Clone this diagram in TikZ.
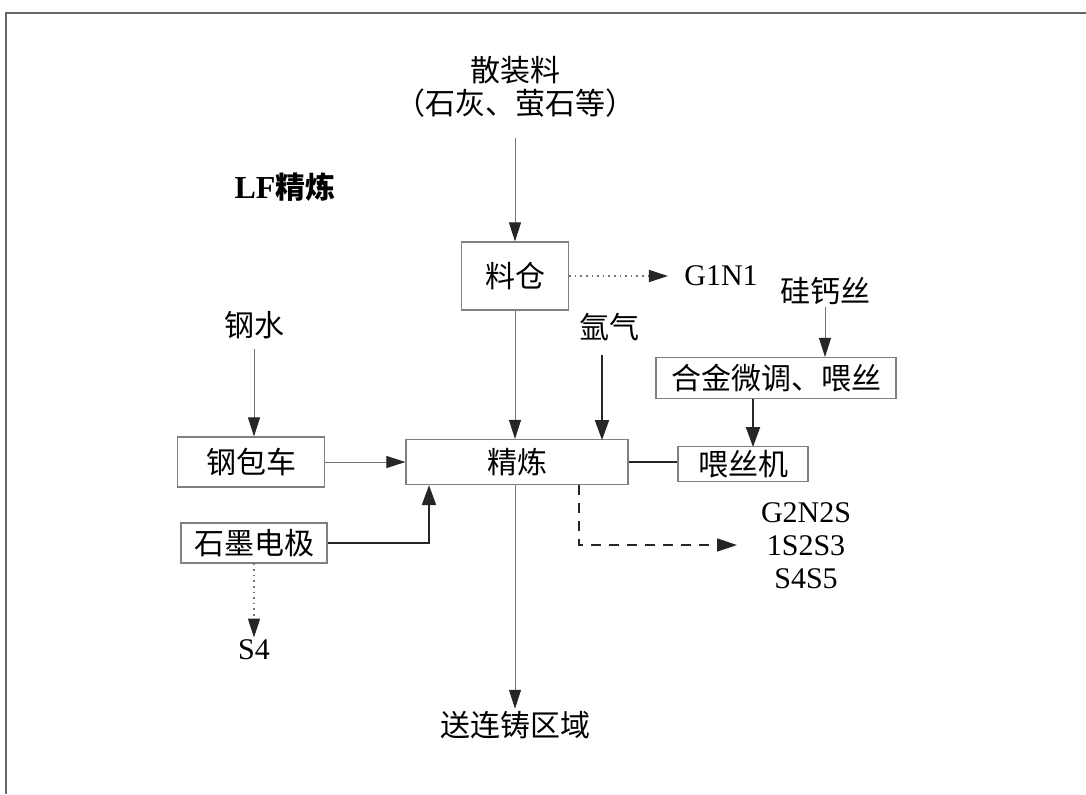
\documentclass[tikz,border=0pt]{standalone}
\usepackage{fontspec}
\setmainfont{Liberation Serif}
\newfontfamily\cjk{Noto Sans CJK SC}
\usetikzlibrary{arrows.meta,positioning}

\tikzset{
  box/.style={draw=black!50, line width=0.6pt, inner sep=0pt, font=\cjk\fontsize{15}{18}\selectfont},
  lbl/.style={inner sep=1pt, font=\cjk\fontsize{15}{18}\selectfont},
  code/.style={inner sep=1pt, font=\fontsize{15}{16.5}\selectfont, align=center},
  arr/.style={draw=black!55, line width=0.5pt, -{Triangle[length=9.5pt,width=6pt,color=black!85]}},
  thickarr/.style={draw=black!85, line width=1pt, -{Triangle[length=10pt,width=7pt]}},
  dotarr/.style={draw=black!55, line width=0.8pt, dotted, -{Triangle[length=9.5pt,width=6pt,color=black!85]}},
  dasharr/.style={draw=black!85, line width=0.8pt, dash pattern=on 5pt off 4pt, -{Triangle[length=10pt,width=6.5pt,color=black!85]}},
}

\begin{document}
\begin{tikzpicture}[x=0.5pt, y=-0.5pt]

\useasboundingbox (0,0) rectangle (1086,794);
\fill[white] (0,0) rectangle (1086,794);
\draw[black!60, line width=1pt] (1086,13) -- (6,13) -- (6,794);

\node[lbl] (bulk) at (515,70) {散装料};
\node[lbl] (bulk2) at (515,103) {（石灰、萤石等）};
\node[lbl, font=\cjk\bfseries\fontsize{15}{18}\selectfont] (title) at (285,187) {{\rmfamily\bfseries\fontsize{16}{18}\selectfont LF}精炼};

\node[box, minimum width=53.5pt, minimum height=34pt] (bin) at (515,276) {料仓};
\node[code] (g1) at (721,276) {G1N1};

\node[lbl] (steel) at (254,325) {钢水};
\node[box, minimum width=73.5pt, minimum height=25pt] (ladle) at (251,462) {钢包车};
\node[box, minimum width=111pt, minimum height=22.5pt] (refine) at (517,462) {精炼};

\node[lbl] (argon) at (609,327) {氩气};
\node[lbl] (wire) at (825,291) {硅钙丝};
\node[box, minimum width=120pt, minimum height=20.5pt] (alloy) at (776,378) {合金微调、喂丝};
\node[box, minimum width=65pt, minimum height=17.5pt] (feeder) at (743,464) {喂丝机};

\node[box, minimum width=73pt, minimum height=20pt] (graph) at (254,543) {石墨电极};
\node[code] (s4) at (254,650) {S4};
\node[lbl] (cast) at (515,725) {送连铸区域};
\node[code] (gas) at (806,546) {G2N2S\\1S2S3\\S4S5};

\coordinate (A) at (429,543);
\coordinate (B) at (579,545);
\coordinate (C) at (737,545);

\draw[arr] (bulk2.south) ++(0,18) -- (bin.north);
\draw[dotarr, shorten >=7pt] (bin.east) -- (g1.west);
\draw[arr] (bin.south) -- (bin.south |- refine.north);
\draw[arr] (steel.south) ++(0,8) -- (steel.south |- ladle.north);
\draw[arr] (ladle.east) -- (ladle.east -| refine.west);
\draw[thickarr] (argon.south -| 602,0) ++(0,12) -- (602,440);
\draw[arr] (wire.south) -- (wire.south |- alloy.north);
\draw[thickarr] (alloy.south -| 753,0) -- (753,447);
\draw[draw=black!85, line width=0.8pt] (refine.east) -- (refine.east -| feeder.west);
\draw[thickarr] (graph.east) -- (A) -- (A |- refine.south);
\draw[dotarr] (graph.south) -- (s4.north);
\draw[arr] (refine.south -| 515,0) -- (cast.north -| 515,0);
\draw[dasharr] (B |- refine.south) -- (B) -- (C);

\end{tikzpicture}
\end{document}
